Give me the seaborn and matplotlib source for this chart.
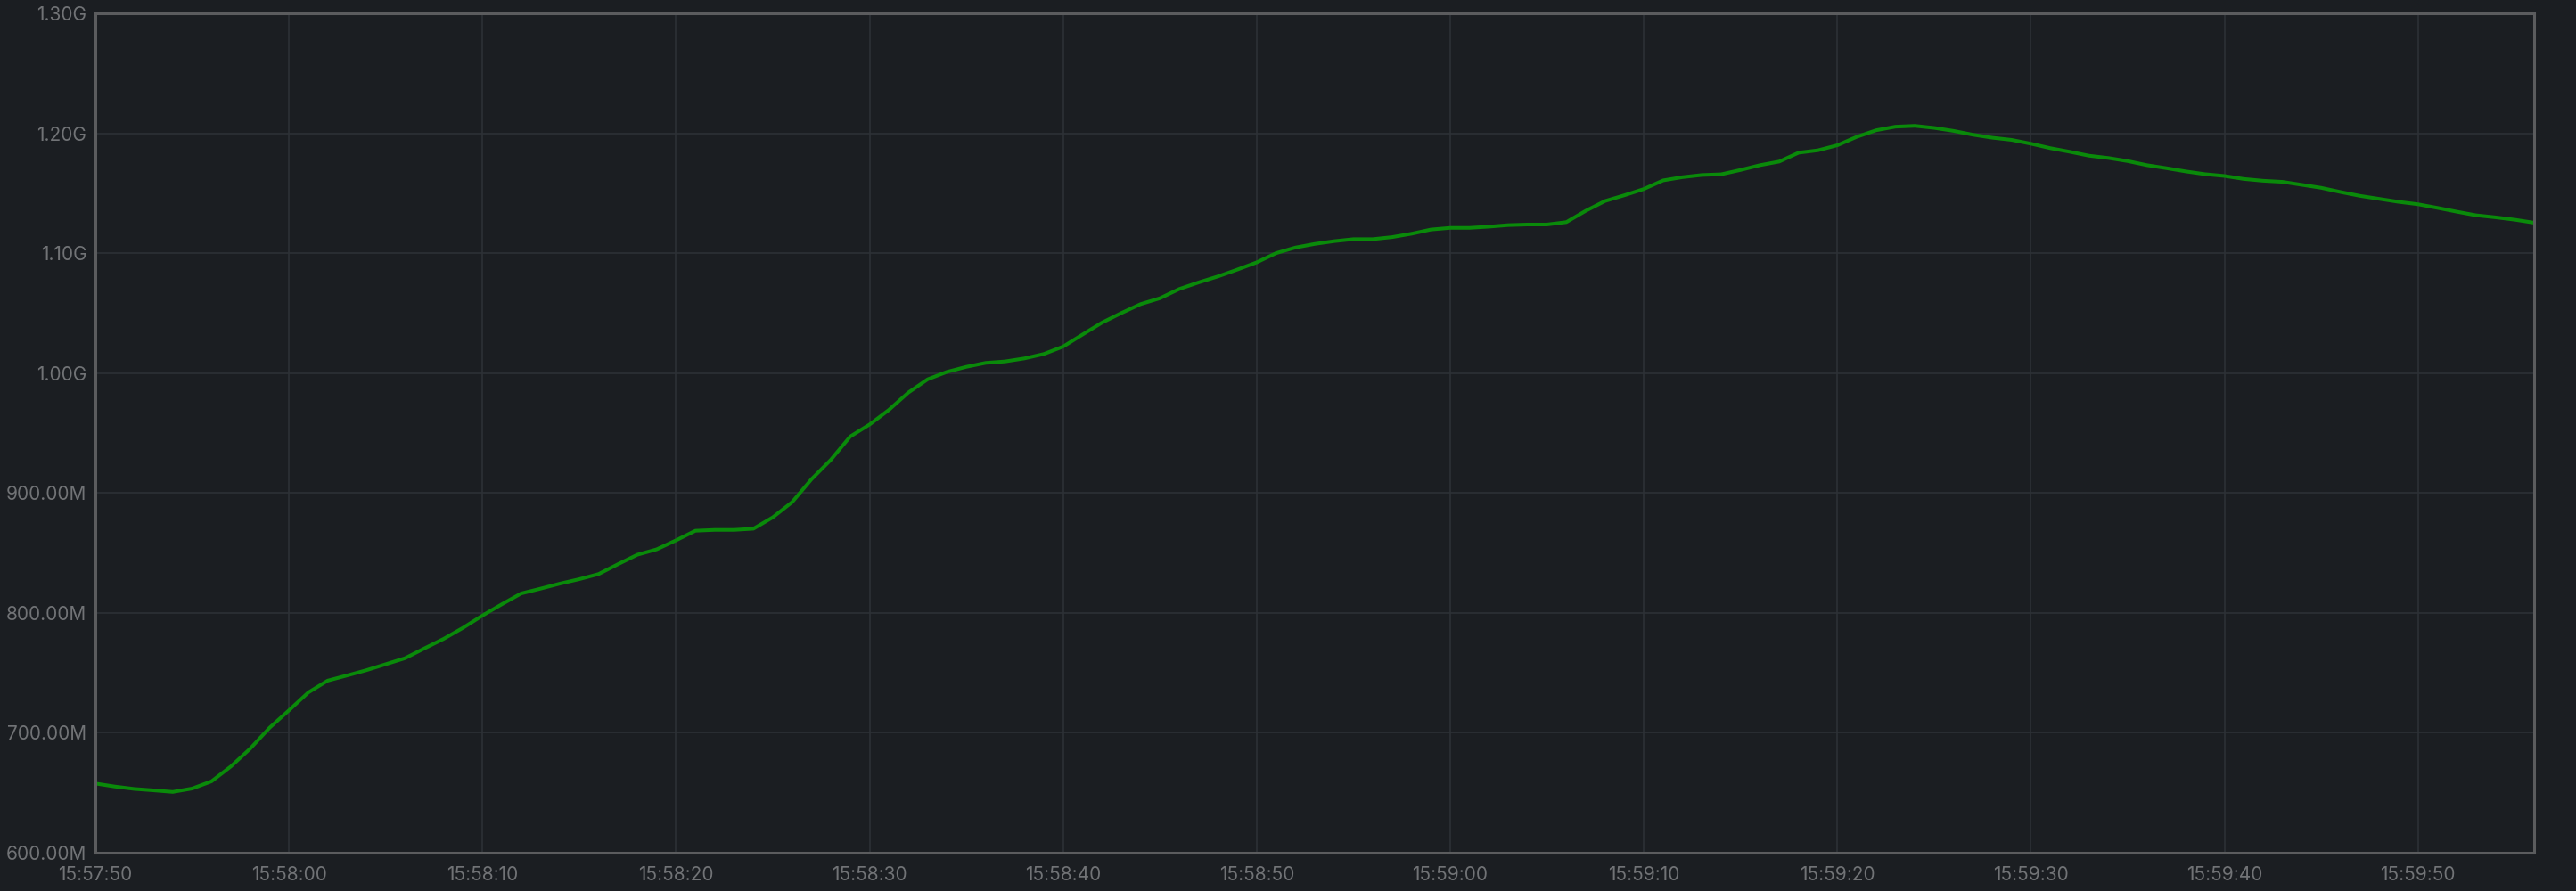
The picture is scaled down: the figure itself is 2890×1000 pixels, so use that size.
import pandas as pd
import matplotlib
matplotlib.use("Agg")
import matplotlib.pyplot as plt
import matplotlib.dates as mdates
from matplotlib.ticker import FuncFormatter, MultipleLocator
import seaborn as sns

# memory usage sampled once per second, in MB
start_time = "2024-01-01 15:57:50"
memory_mb = [
    657.7, 655.2, 653.2, 652.0, 650.7, 653.5, 659.5, 671.9, 686.8, 704.2,
    718.7, 733.6, 743.5, 747.8, 752.2, 757.2, 762.2, 770.4, 778.4, 787.6,
    797.8, 807.2, 816.2, 820.2, 824.4, 828.1, 832.4, 840.6, 848.5, 853.0,
    860.5, 868.5, 869.2, 869.2, 870.2, 879.7, 892.4, 911.5, 927.7, 947.1,
    957.1, 969.3, 983.7, 994.8, 1001.0, 1005.2, 1008.5, 1009.7, 1012.2, 1015.9,
    1022.1, 1032.1, 1042.0, 1050.0, 1057.5, 1062.4, 1070.1, 1075.6, 1080.6, 1086.3,
    1092.3, 1100.0, 1104.7, 1107.7, 1110.0, 1111.7, 1111.7, 1113.4, 1116.2, 1119.7,
    1121.1, 1121.1, 1122.1, 1123.4, 1123.9, 1123.9, 1125.9, 1135.3, 1143.5, 1148.3,
    1153.5, 1160.7, 1163.4, 1165.2, 1165.8, 1169.4, 1173.4, 1176.4, 1183.8, 1185.8,
    1190.0, 1197.0, 1202.5, 1205.5, 1206.2, 1204.5, 1202.0, 1198.8, 1196.3, 1194.5,
    1191.3, 1187.6, 1184.6, 1181.3, 1179.4, 1176.8, 1173.4, 1170.9, 1168.2, 1165.9,
    1164.4, 1161.9, 1160.4, 1159.5, 1157.0, 1154.5, 1151.0, 1147.8, 1145.3, 1142.8,
    1140.8, 1137.8, 1134.6, 1131.6, 1129.9, 1127.9, 1125.4,
]
times = pd.date_range(start_time, periods=len(memory_mb), freq="s")
df = pd.DataFrame({"time": times, "memory": memory_mb})

BG = "#1b1e22"
GRID = "#2e3237"
SPINE = "#5b5c5e"
TEXT = "#717376"
LINE = "#0a8a0a"

sns.set_theme(style="darkgrid", rc={
    "figure.facecolor": BG,
    "axes.facecolor": BG,
    "grid.color": GRID,
    "grid.linewidth": 1.1,
})
plt.rcParams["font.family"] = ["Inter", "DejaVu Sans"]


def fmt_bytes(v, pos):
    if v >= 1000:
        return f"{v / 1000:.2f}G"
    return f"{v:.2f}M"


fig = plt.figure(figsize=(28.9, 10), dpi=100)
ax = fig.add_axes([107 / 2890, 43 / 1000, (2843 - 107) / 2890, (957 - 15) / 1000])

sns.lineplot(data=df, x="time", y="memory", color=LINE, linewidth=2.9, ax=ax)

ax.set_xlim(times[0], times[-1])
ax.set_ylim(600, 1300)
ax.yaxis.set_major_locator(MultipleLocator(100))
ax.yaxis.set_major_formatter(FuncFormatter(fmt_bytes))
ax.xaxis.set_major_locator(mdates.SecondLocator(bysecond=range(0, 60, 10)))
ax.xaxis.set_major_formatter(mdates.DateFormatter("%H:%M:%S"))

ax.set_xlabel("")
ax.set_ylabel("")
ax.tick_params(axis="both", length=0, labelsize=15, colors=TEXT)
ax.tick_params(axis="x", pad=11)
ax.tick_params(axis="y", pad=7)
ax.grid(True, color=GRID, linewidth=1.1)
for side in ["left", "right", "top", "bottom"]:
    ax.spines[side].set_visible(True)
    ax.spines[side].set_color(SPINE)
    ax.spines[side].set_linewidth(2.2)

fig.savefig("out.png", dpi=100, facecolor=BG)
